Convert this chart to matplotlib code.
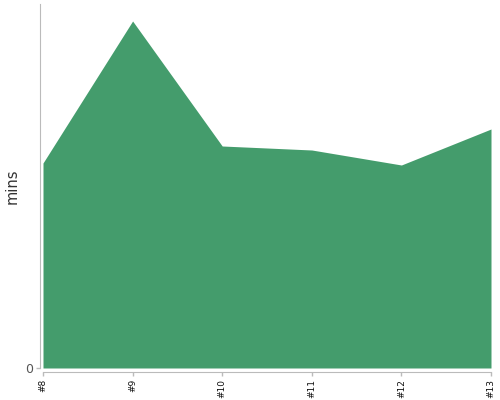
import matplotlib
matplotlib.use('Agg')
import matplotlib.pyplot as plt

# episodes and their duration
episodes = ['#8', '#9', '#10', '#11', '#12', '#13']
mins = [20.5, 34.7, 22.2, 21.8, 20.3, 23.9]

fig = plt.figure(figsize=(5, 4), dpi=100)
ax = fig.add_axes([43 / 500, 32 / 400, 448 / 500, 364 / 400])

x = list(range(len(episodes)))
ax.fill_between(x, 0, mins, color='#449c6c', linewidth=0)
ax.set_xlim(0, len(episodes) - 1)
ax.set_ylim(0, 36.4)

for s in ['top', 'right']:
    ax.spines[s].set_visible(False)
ax.spines['left'].set_position(('outward', 2.2))
ax.spines['bottom'].set_position(('outward', 2.9))
ax.spines['left'].set_color('#bbbbbb')
ax.spines['bottom'].set_color('#bbbbbb')
ax.tick_params(colors='#bbbbbb', length=3, width=1, pad=2)

ax.set_xticks(x)
ax.set_xticklabels(episodes)
plt.setp(ax.get_xticklabels(), rotation=90, fontsize=6.5, color='#111111')
ax.set_yticks([0])
ax.set_yticklabels(['0'])
plt.setp(ax.get_yticklabels(), fontsize=9, color='#555555')
ax.set_ylabel('mins', fontsize=10.5, color='#333333')
ax.yaxis.set_label_coords(-0.053, 0.5)

fig.savefig('out.png', dpi=100)
